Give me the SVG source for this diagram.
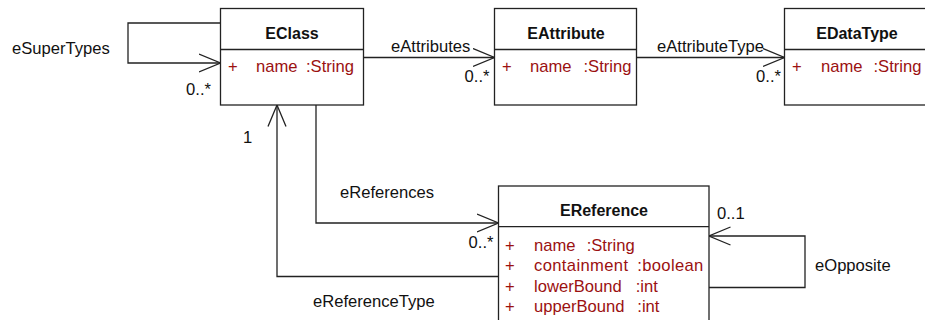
<svg xmlns="http://www.w3.org/2000/svg" width="925" height="320" viewBox="0 0 925 320">
  <style>
    text { font-family: "Liberation Sans", Arial, sans-serif; font-size: 16.6px; fill: #111; }
    .title { font-size: 16px; font-weight: bold; text-anchor: middle; }
    .attr { fill: #9b1111; }
    .end { text-anchor: end; }
    .box { fill: #fff; stroke: #222; stroke-width: 1.3; }
    .edge { fill: none; stroke: #222; stroke-width: 1.3; }
  </style>
  <defs>
    <marker id="open" viewBox="0 0 22 20" refX="21.5" refY="10" markerWidth="22" markerHeight="20" markerUnits="userSpaceOnUse" orient="auto">
      <path d="M0,1 L21.5,10 L0,19" fill="none" stroke="#222" stroke-width="1.3"/>
    </marker>
  </defs>
  <rect width="925" height="320" fill="#fff"/>

  <!-- associations -->
  <g id="connectors">
    <path class="edge" d="M220.5,23 H128 V63 H220.5" marker-end="url(#open)"/>
    <path class="edge" d="M363.5,57.5 H494.5" marker-end="url(#open)"/>
    <path class="edge" d="M636.5,57.5 H784.5" marker-end="url(#open)"/>
    <path class="edge" d="M316,105 V223 H498.5" marker-end="url(#open)"/>
    <path class="edge" d="M498.5,276.5 H277 V105" marker-end="url(#open)"/>
    <path class="edge" d="M709,287.5 H805 V236 H709" marker-end="url(#open)"/>

    <text x="12" y="54">eSuperTypes</text>
    <text class="end" x="211" y="95">0..*</text>
    <text x="391" y="51.5">eAttributes</text>
    <text class="end" x="489.5" y="81.5">0..*</text>
    <text x="657" y="51.5">eAttributeType</text>
    <text class="end" x="781" y="81.5">0..*</text>
    <text x="243" y="142.5">1</text>
    <text x="340" y="198.3">eReferences</text>
    <text class="end" x="493.5" y="248">0..*</text>
    <text x="313" y="306.7">eReferenceType</text>
    <text x="717" y="219.3">0..1</text>
    <text x="815" y="270.7">eOpposite</text>
  </g>

  <g id="EClass">
    <rect class="box" x="220.5" y="8.5" width="143" height="96.5"/>
    <line class="edge" x1="220.5" y1="49.5" x2="363.5" y2="49.5"/>
    <text class="title" x="292" y="39">EClass</text>
    <text class="attr" x="228" y="72">+</text>
    <text class="attr" x="256" y="72">name</text>
    <text class="attr" x="306" y="72">:String</text>
  </g>

  <g id="EAttribute">
    <rect class="box" x="494.5" y="8.5" width="142" height="96.5"/>
    <line class="edge" x1="494.5" y1="49.5" x2="636.5" y2="49.5"/>
    <text class="title" x="566" y="39">EAttribute</text>
    <text class="attr" x="502" y="72">+</text>
    <text class="attr" x="530" y="72">name</text>
    <text class="attr" x="583.5" y="72">:String</text>
  </g>

  <g id="EDataType">
    <rect class="box" x="784.5" y="8.5" width="146" height="96.5"/>
    <line class="edge" x1="784.5" y1="49.5" x2="930" y2="49.5"/>
    <text class="title" x="857" y="39">EDataType</text>
    <text class="attr" x="792" y="72">+</text>
    <text class="attr" x="821" y="72">name</text>
    <text class="attr" x="873.5" y="72">:String</text>
  </g>

  <g id="EReference">
    <rect class="box" x="498.5" y="186" width="210.5" height="150"/>
    <line class="edge" x1="498.5" y1="226.7" x2="709" y2="226.7"/>
    <text class="title" x="604" y="216">EReference</text>
    <text class="attr" x="505" y="250.5">+</text>
    <text class="attr" x="534" y="250.5">name</text>
    <text class="attr" x="586.7" y="250.5">:String</text>
    <text class="attr" x="505" y="271">+</text>
    <text class="attr" x="534" y="271" textLength="94">containment</text>
    <text class="attr" x="637.3" y="271" textLength="66">:boolean</text>
    <text class="attr" x="505" y="291.7">+</text>
    <text class="attr" x="534" y="291.7">lowerBound</text>
    <text class="attr" x="635.7" y="291.7">:int</text>
    <text class="attr" x="505" y="312.4">+</text>
    <text class="attr" x="534" y="312.4">upperBound</text>
    <text class="attr" x="637.3" y="312.4">:int</text>
  </g>
</svg>
